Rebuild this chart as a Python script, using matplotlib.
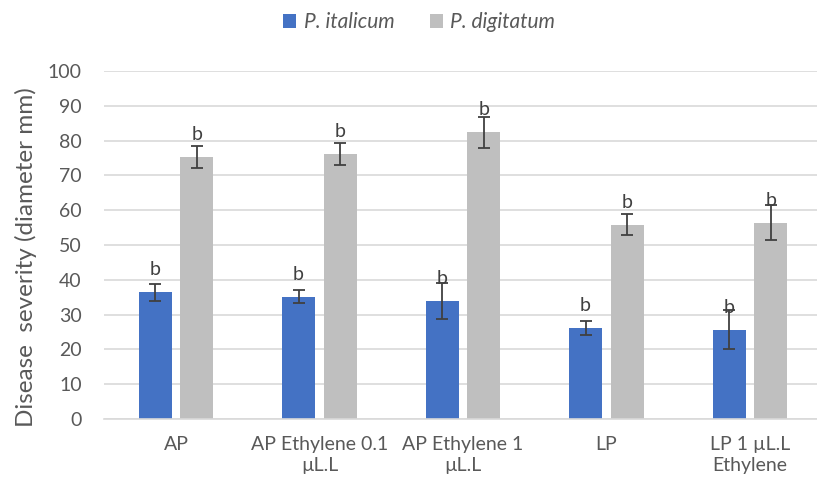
import numpy as np
import matplotlib.pyplot as plt

plt.rcParams['font.family'] = ['Lato', 'DejaVu Sans']

categories = ['AP', 'AP Ethylene 0.1\nµL.L', 'AP Ethylene 1\nµL.L', 'LP', 'LP 1 µL.L\nEthylene']
italicum = [36.4, 35.2, 33.9, 26.1, 25.7]
italicum_err = [2.4, 2.0, 5.2, 2.0, 5.5]
digitatum = [75.2, 76.1, 82.4, 55.8, 56.4]
digitatum_err = [3.2, 3.2, 4.4, 3.0, 5.0]
letters_it = ['b', 'b', 'b', 'b', 'b']
letters_dg = ['b', 'b', 'b', 'b', 'b']

W, H = 817, 482
fig = plt.figure(figsize=(W / 100, H / 100), dpi=100)
ax = fig.add_axes([104 / W, (H - 419) / H, (817 - 104) / W, (419 - 71) / H])

x = np.arange(len(categories))
off = 0.146
bw = 0.23
blue = '#4472C4'
grey = '#BFBFBF'
tc = '#595959'
ecol = '#404040'

ax.bar(x - off, italicum, bw, color=blue, label='P. italicum', zorder=2)
ax.bar(x + off, digitatum, bw, color=grey, label='P. digitatum', zorder=2)
ax.errorbar(x - off, italicum, yerr=italicum_err, fmt='none', ecolor=ecol,
            elinewidth=1.3, capsize=4, capthick=1.3, zorder=3)
ax.errorbar(x + off, digitatum, yerr=digitatum_err, fmt='none', ecolor=ecol,
            elinewidth=1.3, capsize=4, capthick=1.3, zorder=3)

for xi, v, s in zip(x - off, italicum, letters_it):
    ax.annotate(s, (xi, v), xytext=(0, 10), textcoords='offset points',
                ha='center', va='bottom', fontsize=14, color=ecol, zorder=4)
for xi, v, s in zip(x + off, digitatum, letters_dg):
    ax.annotate(s, (xi, v), xytext=(0, 10), textcoords='offset points',
                ha='center', va='bottom', fontsize=14, color=ecol, zorder=4)

ax.set_xlim(-0.502, (817 - 176) / 143.5)
ax.set_ylim(0, 100)
ax.set_yticks(range(0, 101, 10))
ax.set_xticks(x)
ax.set_xticklabels(categories, fontsize=14, color=tc, linespacing=1.3)
ax.tick_params(axis='y', labelsize=14, labelcolor=tc, length=0, pad=16)
ax.tick_params(axis='x', length=0, pad=12)
ax.grid(axis='y', color='#D9D9D9', linewidth=1.2, zorder=0)
for sp in ['top', 'right', 'left']:
    ax.spines[sp].set_visible(False)
ax.spines['bottom'].set_color('#D9D9D9')
ax.spines['bottom'].set_linewidth(1.2)

fig.text(26 / W, 0.5 + (H / 2 - 257) / H, 'Disease  severity (diameter mm)', rotation=90,
         ha='center', va='center', fontsize=17.5, color=tc)

leg = fig.legend(loc='center', bbox_to_anchor=(419 / W, 1 - 22 / H), ncol=2,
                 frameon=False, handlelength=0.65, handleheight=0.65,
                 handletextpad=0.35, columnspacing=1.7, prop={'style': 'italic', 'size': 15})
for t in leg.get_texts():
    t.set_color(tc)

fig.savefig('out.png', dpi=100)
